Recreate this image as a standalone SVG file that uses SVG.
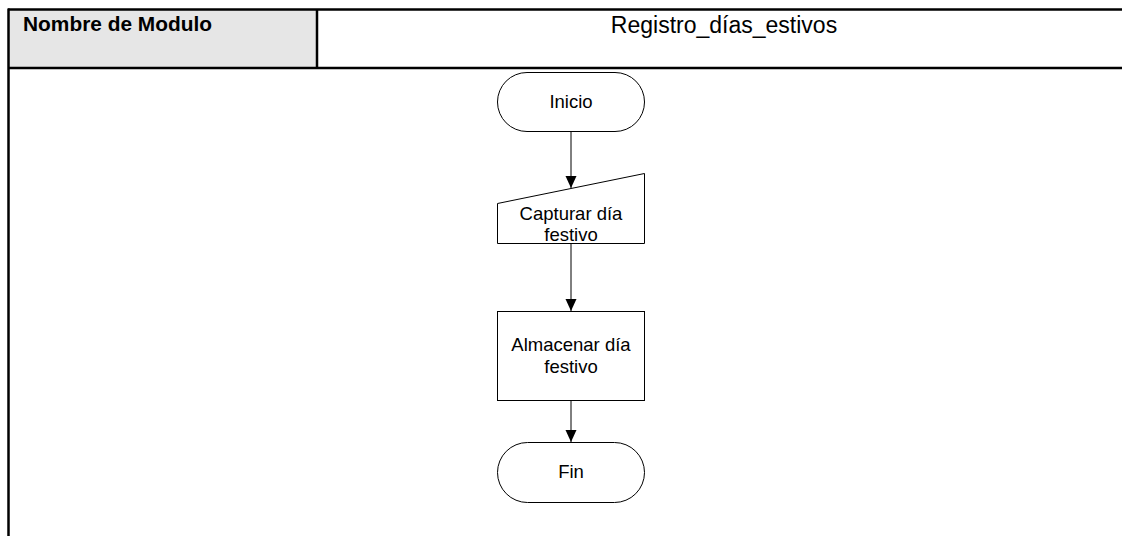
<svg xmlns="http://www.w3.org/2000/svg" width="1122" height="536" viewBox="0 0 1122 536">
<style>
.frame{stroke:#000;stroke-width:2.5;fill:none}
.shape{fill:#fff;stroke:#000;stroke-width:1}
.conn{stroke:#000;stroke-width:1;fill:none}
.lbl{font-family:"Liberation Sans",Arial,sans-serif;font-size:18.5px;fill:#000;text-anchor:middle}
.hdr{font-family:"Liberation Sans",Arial,sans-serif;font-size:19.5px;font-weight:bold;fill:#000}
.title{font-family:"Liberation Sans",Arial,sans-serif;font-size:23px;fill:#000;text-anchor:middle}
</style>
<defs>
<marker id="arr" viewBox="0 0 12 12" refX="12" refY="6" markerWidth="12" markerHeight="12" markerUnits="userSpaceOnUse" orient="auto">
<path d="M0,0.5 L12,6 L0,11.5 Z" fill="#000"/>
</marker>
</defs>
<rect width="1122" height="536" fill="#fff"/>
<g id="table">
<rect x="9" y="10" width="307" height="57" fill="#e6e6e6"/>
<line class="frame" x1="8" y1="9.5" x2="1122" y2="9.5"/>
<line class="frame" x1="8" y1="68" x2="1122" y2="68"/>
<line class="frame" x1="8.5" y1="8.5" x2="8.5" y2="536"/>
<line class="frame" x1="317" y1="9.5" x2="317" y2="68"/>
<text class="hdr" x="23" y="31" textLength="189" lengthAdjust="spacingAndGlyphs">Nombre de Modulo</text>
<text class="title" x="724" y="33">Registro_días_estivos</text>
</g>
<g id="connectors">
<line class="conn" x1="571" y1="131" x2="571" y2="188" marker-end="url(#arr)"/>
<line class="conn" x1="571" y1="243" x2="571" y2="311" marker-end="url(#arr)"/>
<line class="conn" x1="571" y1="400" x2="571" y2="442" marker-end="url(#arr)"/>
</g>
<g id="inicio">
<rect class="shape" x="497.5" y="72.5" width="147" height="59" rx="29.5" ry="29.5"/>
<text class="lbl" x="571" y="108">Inicio</text>
</g>
<g id="capturar">
<path class="shape" d="M497.5,203.5 L644.5,173.5 L644.5,243.5 L497.5,243.5 Z"/>
<text class="lbl" x="571" y="220">Capturar día</text>
<text class="lbl" x="571" y="241">festivo</text>
</g>
<g id="almacenar">
<rect class="shape" x="497.5" y="311.5" width="147" height="89"/>
<text class="lbl" x="571" y="351">Almacenar día</text>
<text class="lbl" x="571" y="373">festivo</text>
</g>
<g id="fin">
<rect class="shape" x="497.5" y="442.5" width="147" height="60" rx="30" ry="30"/>
<text class="lbl" x="571" y="478">Fin</text>
</g>
</svg>
